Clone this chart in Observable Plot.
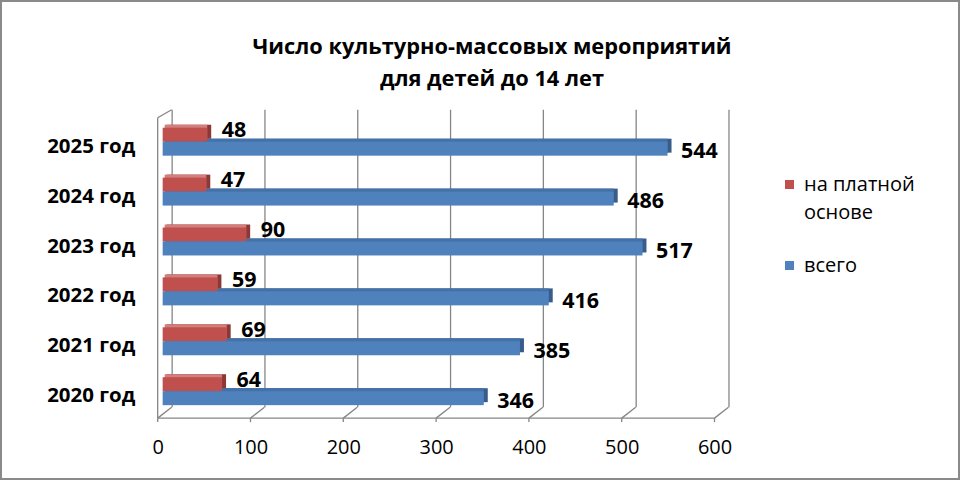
<!DOCTYPE html>
<html><head><meta charset="utf-8">
<script src="https://cdn.jsdelivr.net/npm/d3@7"></script>
<script src="https://cdn.jsdelivr.net/npm/@observablehq/plot@0.6"></script>
<style>
body{margin:0;background:#fff;}
#wrap{position:relative;width:960px;height:480px;box-sizing:border-box;border:2px solid #8a8a8a;overflow:hidden;font-family:"Open Sans",sans-serif;color:#000;background:#fff}
#chart{position:absolute;left:-2px;top:-2px}
#title{position:absolute;left:-2px;top:28px;width:984px;text-align:center;font-weight:bold;font-size:21.8px;line-height:32px;}
.lg{position:absolute;font-size:20px;line-height:28px;}
.sw{position:absolute;width:9px;height:9px;}
</style></head>
<body>
<div id="wrap">
  <div id="chart"></div>
  <div id="title">Число культурно-массовых мероприятий<br>для детей до 14 лет</div>
  <div id="legend"></div>
</div>
<script>
const years = ["2020 год", "2021 год", "2022 год", "2023 год", "2024 год", "2025 год"];
const paid = [64, 69, 59, 90, 47, 48];
const total = [346, 385, 416, 517, 486, 544];
const seriesNames = ["на платной основе", "всего"];
const seriesColors = ["#C0504D", "#4F81BD"];
const shadowColors = ["#8C3836", "#385D8A"];
const topColors = ["#D27E7B", "#4472A8"];
const xTicks = [0, 100, 200, 300, 400, 500, 600];

const rows = years.map((y, i) => ({year: y, paid: paid[i], total: total[i]}));

const floor = (index, scales, values, dims) => {
  const x = scales.x;
  const top = dims.marginTop - 6;
  const back = dims.height - dims.marginBottom - 9;
  const front = dims.height - dims.marginBottom + 2;
  const g = d3.create("svg:g").attr("stroke", "#868686").attr("stroke-width", 1.3).attr("fill", "none");
  for (const t of xTicks) {
    g.append("line").attr("x1", x(t) + 9).attr("y1", back).attr("x2", x(t) - 5).attr("y2", front);
    g.append("line").attr("x1", x(t) - 5).attr("y1", front).attr("x2", x(t) - 5).attr("y2", front + 4);
  }
  g.append("line").attr("x1", x(0) - 5).attr("y1", front).attr("x2", x(600) - 5).attr("y2", front);
  g.append("line").attr("x1", x(0) - 5).attr("y1", top + 8).attr("x2", x(0) - 5).attr("y2", front);
  g.append("line").attr("x1", x(0) - 5).attr("y1", top + 8).attr("x2", x(0) + 9).attr("y2", top);
  return g.node();
};

const chart = Plot.plot({
  width: 960,
  height: 480,
  marginTop: 116,
  marginBottom: 63,
  marginLeft: 163,
  marginRight: 239,
  style: {fontFamily: "'Open Sans', sans-serif", color: "#000", background: "transparent"},
  x: {domain: [0, 600], label: null},
  y: {domain: years.slice().reverse(), paddingInner: 0.442, paddingOuter: 0.221, label: null},
  marks: [
    Plot.ruleX(xTicks, {x: d => d, dx: 9, insetTop: -6, insetBottom: 9, stroke: "#868686", strokeWidth: 1.3}),
    floor,
    Plot.barX(rows, {x: "total", y: "year", fill: shadowColors[1], insetTop: 14, dx: 4, dy: -3}),
    Plot.barX(rows, {x: "total", y: "year", fill: topColors[1], insetTop: 14, insetRight: 2, dx: 2, dy: -3}),
    Plot.barX(rows, {x: "paid", y: "year", fill: shadowColors[0], insetBottom: 14, dx: 4, dy: -3}),
    Plot.barX(rows, {x: "paid", y: "year", fill: topColors[0], insetBottom: 14, insetRight: 2, dx: 2, dy: -3}),
    Plot.barX(rows, {x: "paid", y: "year", fill: seriesColors[0], insetBottom: 14}),
    Plot.barX(rows, {x: "total", y: "year", fill: seriesColors[1], insetTop: 14}),
    Plot.text(rows, {x: "paid", y: "year", text: d => String(d.paid), dx: 14, dy: -12, textAnchor: "start", fontSize: 21.5, fontWeight: "bold"}),
    Plot.text(rows, {x: "total", y: "year", text: d => String(d.total), dx: 13, dy: 9, textAnchor: "start", fontSize: 21.5, fontWeight: "bold"}),
    Plot.axisX(xTicks, {tickSize: 0, tickPadding: 23, dx: -5, fontSize: 20, tickFormat: d => String(d), label: null}),
    Plot.axisY({tickSize: 0, tickPadding: 28, dy: 4, fontSize: 20.5, fontWeight: "bold", label: null})
  ]
});
document.getElementById("chart").appendChild(chart);

const legend = document.getElementById("legend");
const lgItems = [
  {name: seriesNames[0], color: seriesColors[0], top: 170, lines: ["на платной", "основе"]},
  {name: seriesNames[1], color: seriesColors[1], top: 251, lines: ["всего"]}
];
for (const it of lgItems) {
  const sw = document.createElement("div");
  sw.className = "sw";
  sw.style.left = (785 - 2) + "px";
  sw.style.top = (it.top + 10 - 2) + "px";
  sw.style.background = it.color;
  legend.appendChild(sw);
  const t = document.createElement("div");
  t.className = "lg";
  t.style.left = (804 - 2) + "px";
  t.style.top = (it.top - 2) + "px";
  t.innerHTML = it.lines.join("<br>");
  legend.appendChild(t);
}
</script>
</body></html>
